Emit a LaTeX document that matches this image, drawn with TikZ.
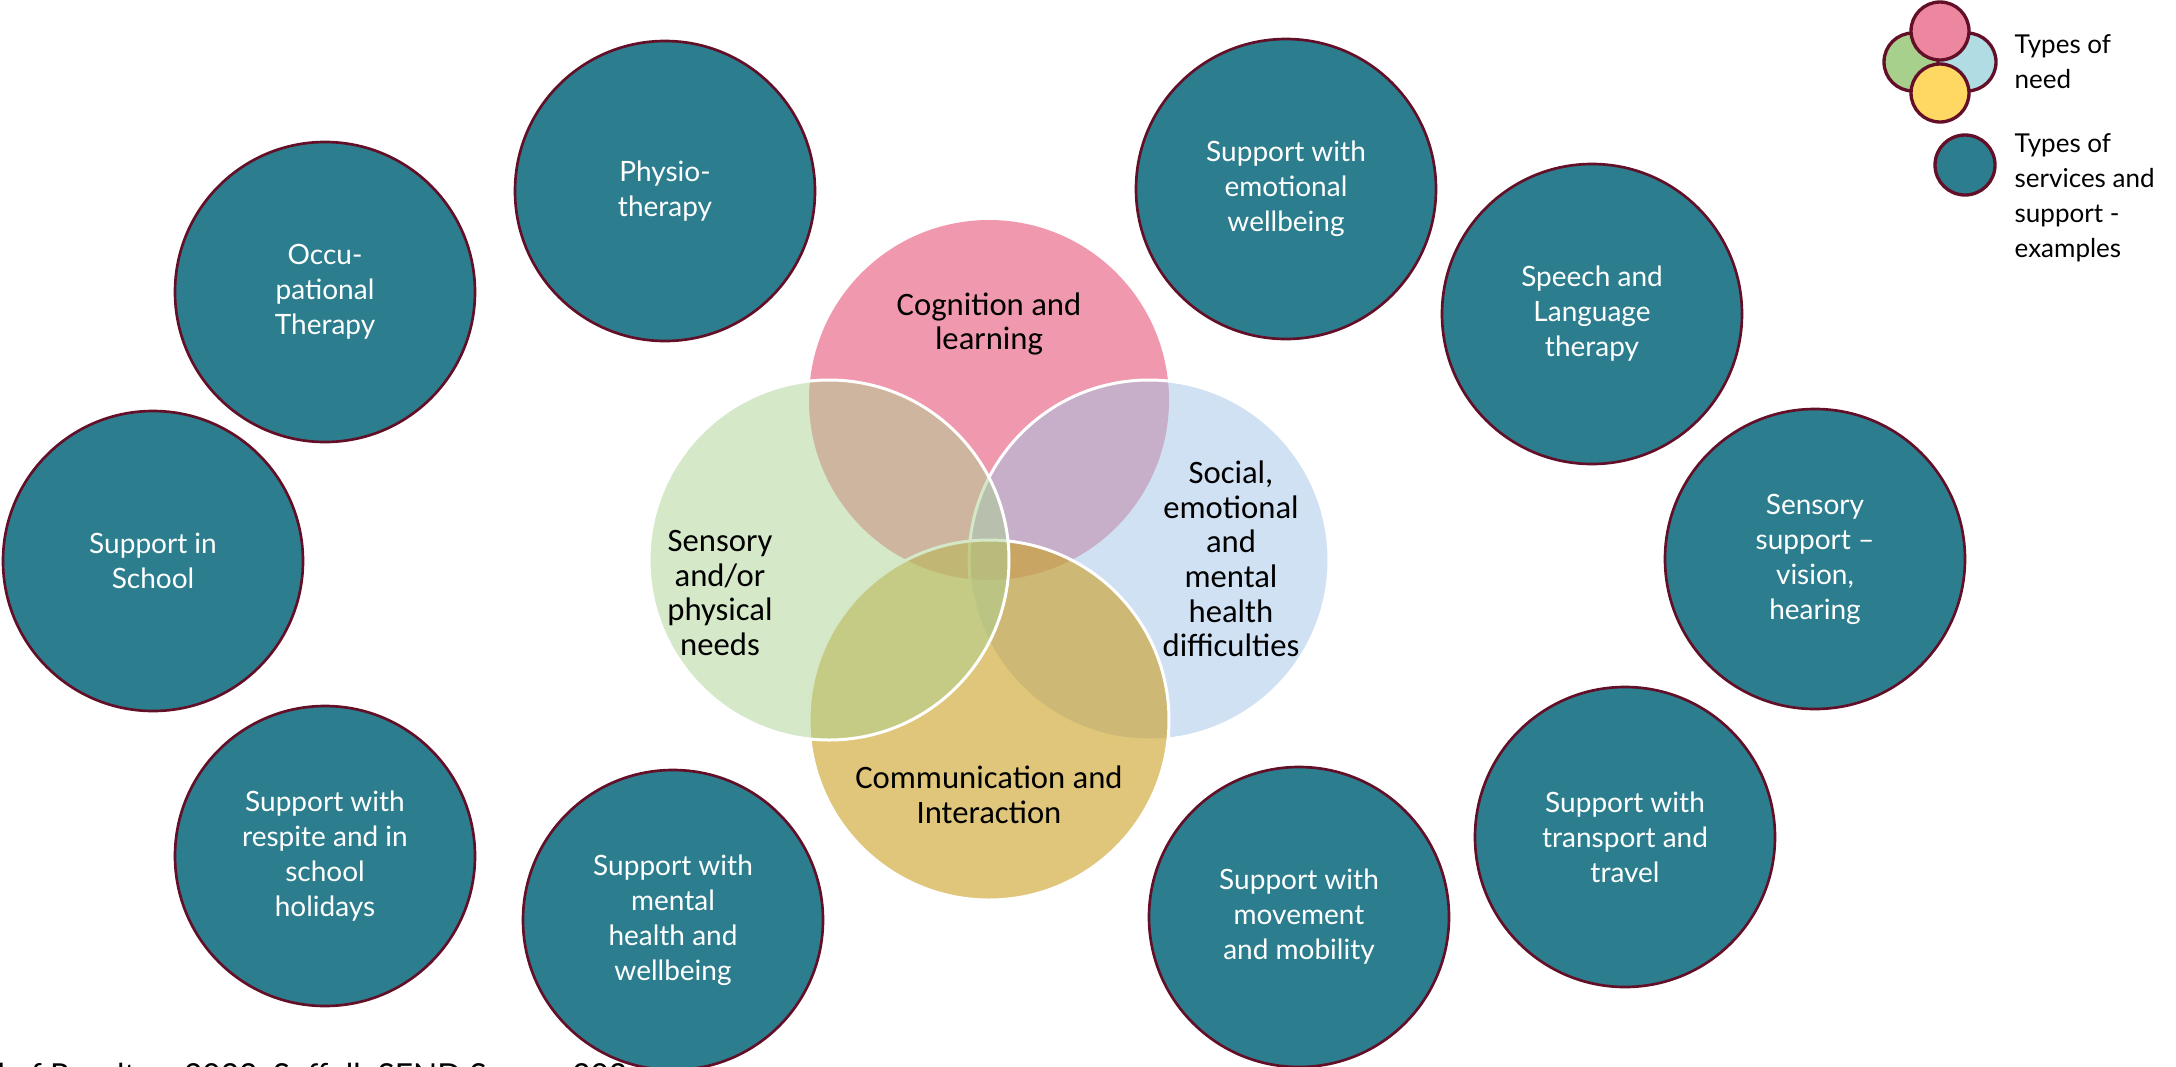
\documentclass[tikz,border=0pt]{standalone}
\usepackage{fontspec}
\setmainfont{Lato}
\newfontfamily\vennfont{Carlito}

% palette
\definecolor{serviceteal}{RGB}{44,126,143}
\definecolor{rim}{RGB}{100,15,40}
\definecolor{cogbase}{RGB}{230,85,120}
\definecolor{sensbase}{RGB}{171,209,145}
\definecolor{socbase}{RGB}{159,195,229}
\definecolor{commbase}{RGB}{203,160,33}
\definecolor{keypink}{RGB}{237,135,160}
\definecolor{keygreen}{RGB}{168,208,141}
\definecolor{keyblue}{RGB}{176,220,228}
\definecolor{keyyellow}{RGB}{255,216,100}

\tikzset{
  service/.style={circle, draw=rim, line width=0.8pt, fill=serviceteal,
    minimum size=90pt, inner sep=0pt, align=center, text=white,
    font=\fontsize{8.4}{10.5}\selectfont},
  need/.style={circle, minimum size=108pt, inner sep=0pt},
  ringed/.style={draw=white, line width=0.9pt},
  needlabel/.style={align=center, text=black, inner sep=0pt,
    font=\vennfont\fontsize{9.8}{10.4}\selectfont},
  keydot/.style={circle, draw=rim, line width=1pt, minimum size=17.4pt, inner sep=0pt},
  keytext/.style={anchor=west, align=left, inner sep=0pt,
    font=\fontsize{7.8}{10.5}\selectfont},
}

\begin{document}
\begin{tikzpicture}[x=0.3pt,y=-0.3pt]
\useasboundingbox (0,0) rectangle (2176,1066);

% source line along the lower edge
\node[anchor=base west, inner sep=0pt, font=\fontsize{9.5}{11}\selectfont] (source)
  at (-3,1086) {l of Results -- 2023, Suffolk SEND Survey 2024-25};

% four overlapping areas of need, stacked pink, blue, yellow, green
\node[need, fill=cogbase, fill opacity=0.6] (cog) at (989,400) {};
\node[need, ringed, fill=socbase, fill opacity=0.5] (soc) at (1149,560) {};
\node[need, ringed, fill=commbase, fill opacity=0.6] (comm) at (989,720) {};
\node[need, ringed, fill=sensbase, fill opacity=0.5] (sens) at (829,560) {};

\node[needlabel] (cogtext)  at (989,324)  {Cognition and\\learning};
\node[needlabel] (senstext) at (720,593)  {Sensory\\and/or\\physical\\needs};
\node[needlabel] (soctext)  at (1231,559) {Social,\\emotional\\and\\mental\\health\\difficulties};
\node[needlabel] (commtext) at (989,795)  {Communication and\\Interaction};

% services and support around the outside
\node[service] (physio)   at (665,191)  {Physio-\\therapy};
\node[service] (occ)      at (325,292)  {Occu-\\pational\\Therapy};
\node[service] (school)   at (153,561)  {Support in\\School};
\node[service] (respite)  at (325,856)  {Support with\\respite and in\\school\\holidays};
\node[service] (mental)   at (673,920)  {Support with\\mental\\health and\\wellbeing};
\node[service] (emotion)  at (1286,189) {Support with\\emotional\\wellbeing};
\node[service] (speech)   at (1592,314) {Speech and\\Language\\therapy};
\node[service] (sensory)  at (1815,559) {Sensory\\support --\\vision,\\hearing};
\node[service] (travel)   at (1625,837) {Support with\\transport and\\travel};
\node[service] (movement) at (1299,917) {Support with\\movement\\and mobility};

% key
\node[keydot, fill=keygreen]  (kgreen)  at (1913,62) {};
\node[keydot, fill=keyblue]   (kblue)   at (1967,62) {};
\node[keydot, fill=keypink]   (kpink)   at (1940,31) {};
\node[keydot, fill=keyyellow] (kyellow) at (1940,93) {};
\node[keydot, fill=serviceteal, minimum size=18pt] (kteal) at (1965,165) {};
\node[keytext] (kneedtext) at (2014,62)  {Types of\\need};
\node[keytext] (kservtext) at (2014,198) {Types of\\services and\\support -\\examples};
\end{tikzpicture}
\end{document}
